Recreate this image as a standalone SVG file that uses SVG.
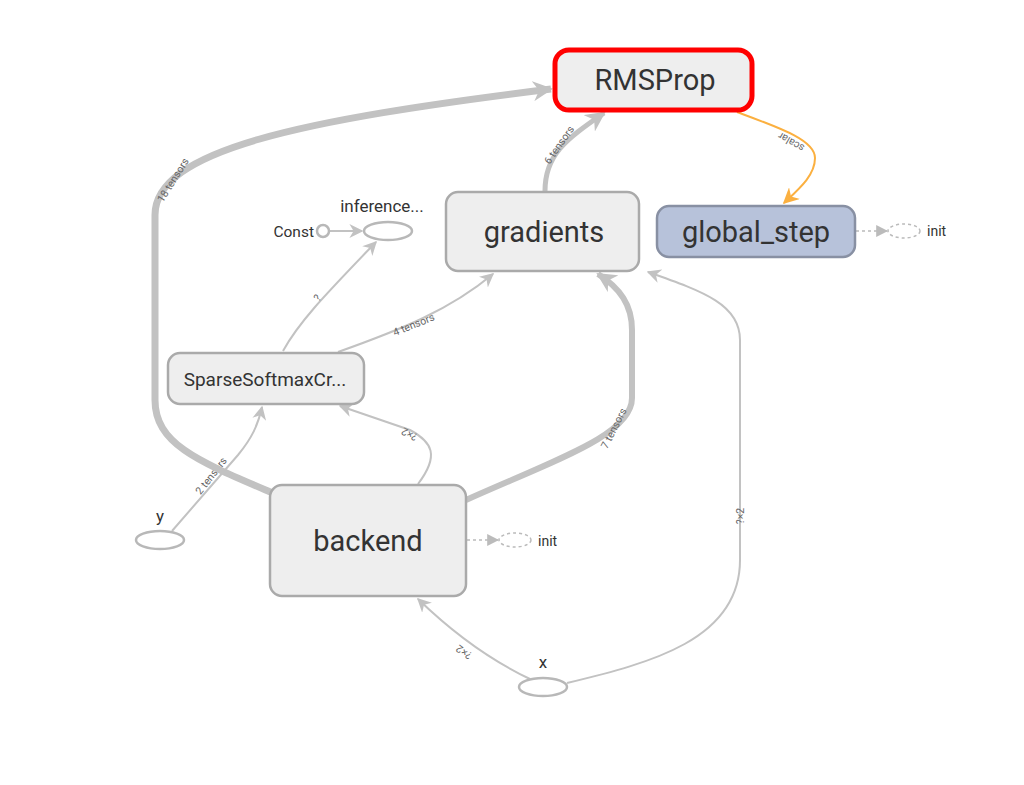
<svg xmlns="http://www.w3.org/2000/svg" width="1024" height="785" viewBox="0 0 1024 785">
<defs>
<style>
.node rect{fill:#eeeeee;stroke:#aaaaaa;stroke-width:2.5}
.big{font-family:Roboto,"Liberation Sans",sans-serif;font-size:29px;fill:#333;text-anchor:middle}
.lbl{font-family:Roboto,"Liberation Sans",sans-serif;font-size:15px;fill:#333}
.el{font-family:Roboto,"Liberation Sans",sans-serif;font-size:10.5px;fill:#666;text-anchor:middle}
.edge{fill:none;stroke:#c2c2c2}
.ell{fill:#fff;stroke:#b8b8b8;stroke-width:2.5}
.dash{fill:none;stroke:#bbb;stroke-width:1.5;stroke-dasharray:3,3}
</style>
<marker id="ah" viewBox="0 0 10 10" refX="9" refY="5" markerWidth="14" markerHeight="14" markerUnits="userSpaceOnUse" orient="auto"><path d="M0,0 L10,5 L0,10 L3,5 z" fill="#c2c2c2"/></marker>
<marker id="ahb" viewBox="0 0 10 10" refX="9" refY="5" markerWidth="20" markerHeight="20" markerUnits="userSpaceOnUse" orient="auto"><path d="M0,0 L10,5 L0,10 L3,5 z" fill="#c2c2c2"/></marker>
<marker id="aho" viewBox="0 0 10 10" refX="9" refY="5" markerWidth="16" markerHeight="16" markerUnits="userSpaceOnUse" orient="auto"><path d="M0,0 L10,5 L0,10 L3,5 z" fill="#fbb040"/></marker>
<marker id="ahd" viewBox="0 0 10 10" refX="9" refY="5" markerWidth="12" markerHeight="12" markerUnits="userSpaceOnUse" orient="auto"><path d="M0,0 L10,5 L0,10 z" fill="#bbb"/></marker>
</defs>
<rect width="1024" height="785" fill="#fff"/>
<g id="connectors">
<text class="el" transform="translate(214,478) rotate(-52)">2 tensors</text>
<path class="edge" stroke-width="2" d="M172,531 L238,455 C252,438 258,425 262,407" marker-end="url(#ah)"/>
<path class="edge" stroke-width="7" d="M275,494 C200,462 155,445 155,400 L155,215 C155,150 300,120 551,89" marker-end="url(#ahb)"/>
<text class="el" transform="translate(176,182) rotate(-58)">18 tensors</text>
<path class="edge" stroke-width="5" d="M545,191 C545,155 565,140 604,113" marker-end="url(#ahb)"/>
<text class="el" transform="translate(562,147) rotate(-55)">6 tensors</text>
<path fill="none" stroke="#fbb040" stroke-width="2" d="M737,112 C780,128 815,140 815,158 C815,175 800,188 784,203" marker-end="url(#aho)"/>
<text class="el" transform="translate(793,139) rotate(210)">scalar</text>
<path class="edge" stroke-width="2" d="M283,351 C300,320 330,290 376,242" marker-end="url(#ah)"/>
<text class="el" transform="translate(320,300) rotate(-50)">?</text>
<path class="edge" stroke-width="2" d="M338,352 C400,330 450,310 493,274" marker-end="url(#ah)"/>
<text class="el" transform="translate(415,328) rotate(-22)">4 tensors</text>
<path class="edge" stroke-width="2" d="M418,484 C440,455 432,442 410,430 L340,406" marker-end="url(#ah)"/>
<text class="el" transform="translate(411,431) rotate(208)">?×2</text>
<path class="edge" stroke-width="6" d="M466,500 C555,460 632,435 632,398 L632,330 C632,305 620,288 598,274" marker-end="url(#ahb)"/>
<text class="el" transform="translate(617,430) rotate(-63)">7 tensors</text>
<path class="edge" stroke-width="2" d="M567,683 C650,663 740,640 740,560 L740,340 C740,305 705,292 648,272" marker-end="url(#ah)"/>
<text class="el" transform="translate(744,516) rotate(-90)">?×2</text>
<path class="edge" stroke-width="2" d="M530,679 C490,660 450,630 418,599" marker-end="url(#ah)"/>
<text class="el" transform="translate(466,649) rotate(215)">?×2</text>
<path class="edge" stroke-width="2" d="M330,231 L362,231" marker-end="url(#ah)"/>
<path class="dash" d="M856,231 L887,231" marker-end="url(#ahd)"/>
<path class="dash" d="M467,540 L498,540" marker-end="url(#ahd)"/>
</g>
<g id="RMSProp" class="node"><rect x="555" y="50" width="197" height="60" rx="14" style="stroke:#ff0000;stroke-width:5"/><text class="big" x="655" y="90">RMSProp</text></g>
<g id="gradients" class="node"><rect x="446" y="192" width="193" height="79" rx="12"/><text class="big" x="544" y="242">gradients</text></g>
<g id="global_step" class="node"><rect x="657" y="206" width="198" height="51" rx="12" style="fill:#b7c2da;stroke:#8890a3"/><text class="big" x="756" y="242">global_step</text></g>
<g id="global_step_init"><ellipse class="dash" cx="904" cy="231" rx="16" ry="7"/><text class="lbl" x="927" y="236" style="font-size:14px">init</text></g>
<g id="inference"><ellipse class="ell" cx="388" cy="231" rx="24" ry="9"/><text class="lbl" x="382" y="212" style="font-size:17px;text-anchor:middle">inference...</text></g>
<g id="Const"><circle cx="323" cy="231" r="6" fill="#fff" stroke="#b8b8b8" stroke-width="2.5"/><text class="lbl" x="314" y="237" style="font-size:15.5px;text-anchor:end">Const</text></g>
<g id="SparseSoftmaxCr" class="node"><rect x="168" y="353" width="196" height="51" rx="12"/><text class="big" x="265" y="386" style="font-size:19px">SparseSoftmaxCr...</text></g>
<g id="backend" class="node"><rect x="270" y="485" width="196" height="111" rx="12"/><text class="big" x="368" y="551">backend</text></g>
<g id="backend_init"><ellipse class="dash" cx="515" cy="540" rx="16" ry="7"/><text class="lbl" x="538" y="546" style="font-size:14px">init</text></g>
<g id="y"><ellipse class="ell" cx="160" cy="540" rx="24" ry="9"/><text class="lbl" x="160" y="522" style="font-size:17px;text-anchor:middle">y</text></g>
<g id="x"><ellipse class="ell" cx="543" cy="687" rx="24" ry="9"/><text class="lbl" x="543" y="668" style="font-size:17px;text-anchor:middle">x</text></g>
</svg>
